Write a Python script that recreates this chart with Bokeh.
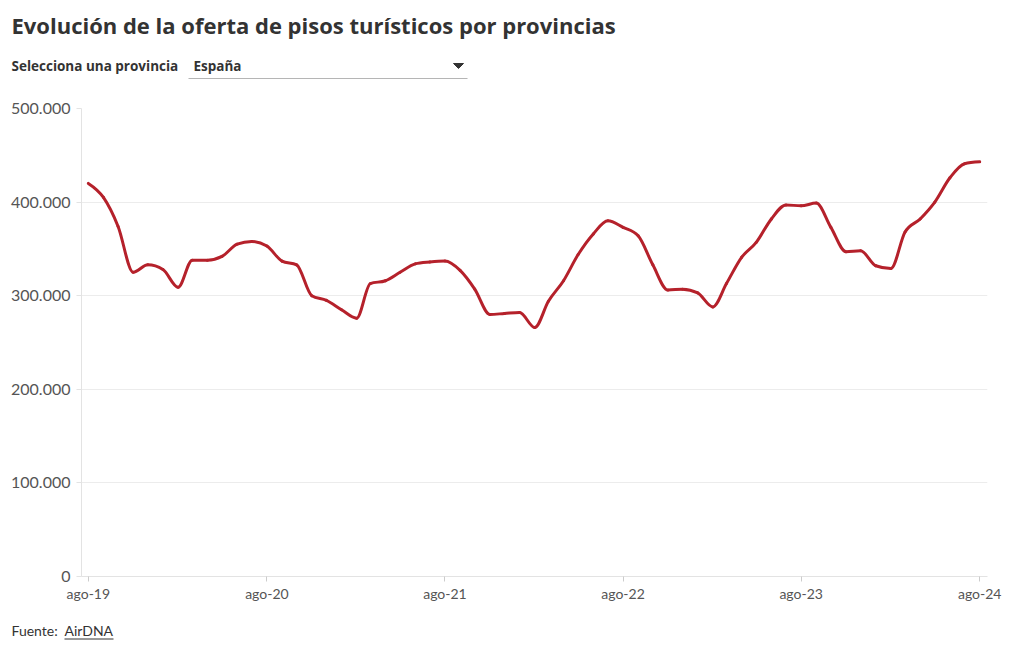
import numpy as np
import pandas as pd
from bokeh.plotting import figure
from bokeh.layouts import column
from bokeh.models import ColumnDataSource, Range1d, FixedTicker
from bokeh.core.properties import value
from bokeh.embed import file_html
from bokeh.resources import INLINE

# ---- data ----
dates = pd.date_range("2019-08-01", periods=61, freq="MS")
oferta = [420000, 405000, 374000, 325000, 333000, 328000, 309000, 338000, 338000, 342000,
          355000, 358000, 353000, 337000, 333000, 300000, 295000, 285000, 276000, 313000,
          316000, 325000, 334000, 336000, 337000, 327000, 307000, 280000, 281000, 282000,
          266000, 294000, 316000, 344000, 366000, 380000, 373000, 364000, 333000, 306000,
          307000, 303000, 288000, 313000, 341000, 357000, 382000, 397000, 396000, 399000,
          373000, 347000, 348000, 332000, 329000, 368000, 382000, 400000, 426000, 441000,
          443000]
x_tick_dates = ["2019-08-01", "2020-08-01", "2021-08-01", "2022-08-01", "2023-08-01", "2024-08-01"]
x_tick_labels = ["ago-19", "ago-20", "ago-21", "ago-22", "ago-23", "ago-24"]
y_ticks = [0, 100000, 200000, 300000, 400000, 500000]
y_tick_labels = ["0", "100.000", "200.000", "300.000", "400.000", "500.000"]

title_text = "Evolución de la oferta de pisos turísticos por provincias"
selector_label = "Selecciona una provincia"
selector_value = "España"
source_label = "Fuente:"
source_name = "AirDNA"

FONT = "Lato"
HFONT = "Open Sans"
DARK = "#333333"


def ms(d):
    return int(pd.Timestamp(d).value // 10**6)


# ---- smooth (monotone-x) rendering of the series through the data points ----
xs = np.array([ms(d) for d in dates], dtype=float)
ys = np.array(oferta, dtype=float)
n = len(xs)
h = np.diff(xs)
s = np.diff(ys) / h
t = np.zeros(n)
for i in range(1, n - 1):
    p_ = (s[i - 1] * h[i] + s[i] * h[i - 1]) / (h[i - 1] + h[i])
    t[i] = (np.sign(s[i - 1]) + np.sign(s[i])) * min(abs(s[i - 1]), abs(s[i]), 0.5 * abs(p_))
t[0] = (3 * s[0] - t[1]) / 2
t[-1] = (3 * s[-1] - t[-2]) / 2
dx = h / 3
bez = ColumnDataSource(dict(
    x0=xs[:-1], y0=ys[:-1], x1=xs[1:], y1=ys[1:],
    cx0=xs[:-1] + dx, cy0=ys[:-1] + dx * t[:-1],
    cx1=xs[1:] - dx, cy1=ys[1:] - dx * t[1:],
))

x_start = pd.Timestamp("2019-08-01") - pd.Timedelta(days=14)
x_end = pd.Timestamp("2024-08-01") + pd.Timedelta(days=16)


def blank(height):
    f = figure(width=1020, height=height, x_range=Range1d(0, 1020), y_range=Range1d(height, 0),
               output_backend="svg", toolbar_location=None, min_border=0,
               x_axis_location=None, y_axis_location=None, frame_align=False)
    f.grid.visible = False
    f.outline_line_color = None
    return f


# ---- header ----
hdr = blank(90)
hdr.text(x=[11], y=[24], text=[title_text], text_font=value(HFONT), text_font_size="22px",
         text_font_style="bold", text_color=DARK, text_baseline="alphabetic")
hdr.text(x=[11], y=[65], text=[selector_label], text_font=value(HFONT), text_font_size="13.5px",
         text_font_style="bold", text_color=DARK, text_baseline="alphabetic")
hdr.text(x=[193], y=[65], text=[selector_value], text_font=value(HFONT), text_font_size="13.5px",
         text_font_style="bold", text_color=DARK, text_baseline="alphabetic")
hdr.segment(x0=[188], y0=[78], x1=[467], y1=[78], line_color="#b5b5b5", line_width=1)
hdr.patch(x=[453, 463, 458], y=[63, 63, 68], color=DARK)

# ---- main chart ----
p = figure(width=1020, height=530, x_axis_type="datetime",
           x_range=Range1d(x_start, x_end), y_range=Range1d(0, 500000),
           output_backend="svg", toolbar_location=None, frame_align=False,
           min_border_left=81, min_border_right=33, min_border_top=18, min_border_bottom=44)
p.outline_line_color = None

p.bezier("x0", "y0", "x1", "y1", "cx0", "cy0", "cx1", "cy1", source=bez,
         line_color="#b5212b", line_width=3, line_cap="round")

xa = p.xaxis[0]
xa.ticker = FixedTicker(ticks=[ms(d) for d in x_tick_dates])
xa.major_label_overrides = {ms(d): l for d, l in zip(x_tick_dates, x_tick_labels)}
xa.axis_line_color = "#e3e3e3"
xa.major_tick_line_color = "#cccccc"
xa.major_tick_out = 5
xa.major_tick_in = 0
xa.minor_tick_line_color = None
xa.major_label_standoff = 3
xa.major_label_text_font = FONT
xa.major_label_text_font_size = "14px"
xa.major_label_text_color = "#555555"

ya = p.yaxis[0]
ya.ticker = FixedTicker(ticks=y_ticks)
ya.major_label_overrides = {tk: l for tk, l in zip(y_ticks, y_tick_labels)}
ya.axis_line_color = "#e3e3e3"
ya.major_tick_line_color = "#e3e3e3"
ya.major_tick_out = 5
ya.major_tick_in = 0
ya.minor_tick_line_color = None
ya.major_label_standoff = 6
ya.major_label_text_font = FONT
ya.major_label_text_font_size = "16px"
ya.major_label_text_color = "#555555"

p.xgrid.grid_line_color = None
p.ygrid.grid_line_color = "#ececec"

# ---- footer ----
ftr = blank(30)
ftr.text(x=[11], y=[10], text=[source_label], text_font=value(FONT), text_font_size="14px",
         text_color=DARK, text_baseline="alphabetic")
ftr.text(x=[64], y=[10], text=[source_name], text_font=value(FONT), text_font_size="14px",
         text_color=DARK, text_baseline="alphabetic")
ftr.segment(x0=[64], y0=[18.5], x1=[113], y1=[18.5], line_color=DARK, line_width=1)

layout = column(hdr, p, ftr, spacing=0)
open("out.html", "w").write(file_html(layout, INLINE))
